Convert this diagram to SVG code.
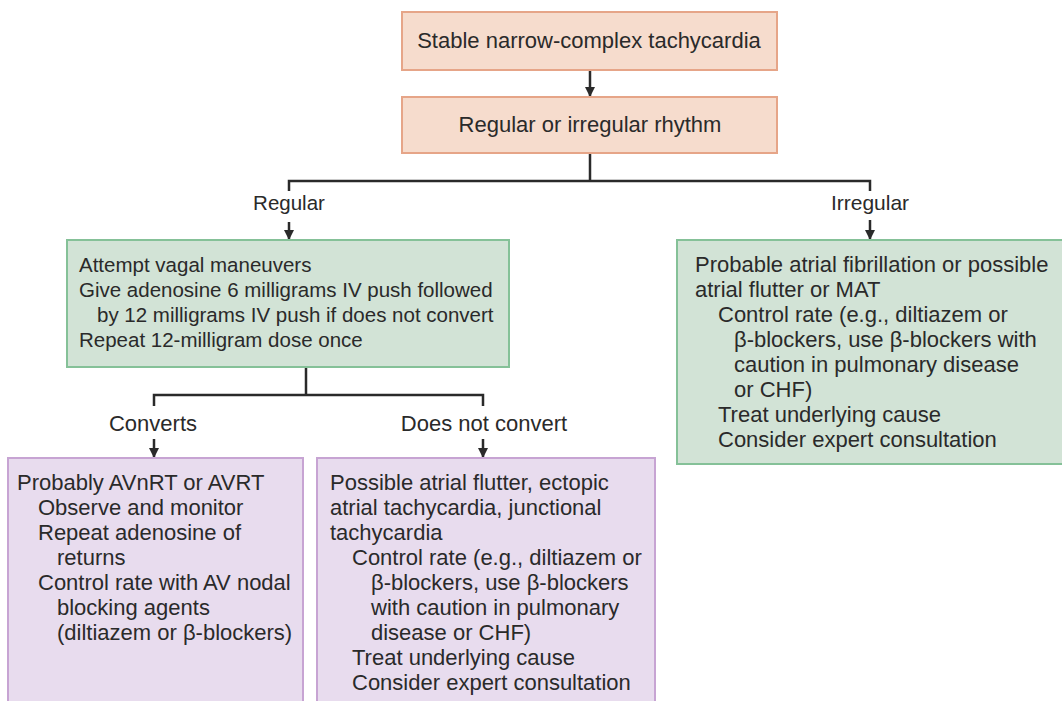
<svg xmlns="http://www.w3.org/2000/svg" width="1062" height="701" viewBox="0 0 1062 701">
<style>
text{font-family:"Liberation Sans",Arial,sans-serif;font-size:22px;fill:#2a2a2a}
.c{text-anchor:middle}
.s{font-size:20.5px}
.m{font-size:21px}
.peach{fill:#f6dccd;stroke:#e6a588;stroke-width:2}
.green{fill:#d2e3d6;stroke:#85c198;stroke-width:2}
.purple{fill:#e8dcee;stroke:#c7a4d3;stroke-width:2}
.ln{fill:none;stroke:#2a2a2a;stroke-width:2.5}
</style>
<defs>
<marker id="ah" viewBox="0 0 10 10" refX="9" refY="5" markerWidth="10" markerHeight="10" markerUnits="userSpaceOnUse" orient="auto">
<path d="M0,0 L10,5 L0,10 z" fill="#2a2a2a"/>
</marker>
</defs>
<rect width="1062" height="701" fill="#ffffff"/>
<g id="connectors">
<line class="ln" x1="590" y1="70" x2="590" y2="96" marker-end="url(#ah)"/>
<polyline class="ln" points="590,153 590,181"/>
<polyline class="ln" points="289,191 289,181 870,181 870,191"/>
<line class="ln" x1="289" y1="222" x2="289" y2="239" marker-end="url(#ah)"/>
<line class="ln" x1="870" y1="220" x2="870" y2="239" marker-end="url(#ah)"/>
<polyline class="ln" points="306,367 306,395"/>
<polyline class="ln" points="154,406 154,395 483,395 483,406"/>
<line class="ln" x1="154" y1="439" x2="154" y2="457" marker-end="url(#ah)"/>
<line class="ln" x1="483" y1="439" x2="483" y2="457" marker-end="url(#ah)"/>
<text class="c s" x="289" y="210">Regular</text>
<text class="c m" x="870" y="210">Irregular</text>
<text class="c" x="153" y="431">Converts</text>
<text class="c" x="484" y="431">Does not convert</text>
</g>
<g id="node-start">
<rect class="peach" x="402" y="12" width="375" height="58"/>
<text class="c" x="589" y="48">Stable narrow-complex tachycardia</text>
</g>
<g id="node-rhythm">
<rect class="peach" x="402" y="97" width="375" height="56"/>
<text class="c" x="590" y="132">Regular or irregular rhythm</text>
</g>
<g id="node-regular">
<rect class="green" x="67" y="240" width="442" height="127"/>
<text class="s" x="79" y="272">Attempt vagal maneuvers</text>
<text class="s" x="79" y="297">Give adenosine 6 milligrams IV push followed</text>
<text class="s" x="97" y="322">by 12 milligrams IV push if does not convert</text>
<text class="s" x="79" y="347">Repeat 12-milligram dose once</text>
</g>
<g id="node-irregular">
<rect class="green" x="677" y="240" width="400" height="224"/>
<text x="695" y="272">Probable atrial fibrillation or possible</text>
<text x="695" y="297">atrial flutter or MAT</text>
<text x="718" y="322">Control rate (e.g., diltiazem or</text>
<text x="734" y="347">β-blockers, use β-blockers with</text>
<text x="734" y="372">caution in pulmonary disease</text>
<text x="734" y="397">or CHF)</text>
<text x="718" y="422">Treat underlying cause</text>
<text x="718" y="447">Consider expert consultation</text>
</g>
<g id="node-converts">
<rect class="purple" x="8" y="458" width="295" height="260"/>
<text x="17" y="490">Probably AVnRT or AVRT</text>
<text x="38" y="515">Observe and monitor</text>
<text x="38" y="540">Repeat adenosine of</text>
<text x="57" y="565">returns</text>
<text x="38" y="590">Control rate with AV nodal</text>
<text x="57" y="615">blocking agents</text>
<text x="57" y="640">(diltiazem or β-blockers)</text>
</g>
<g id="node-notconvert">
<rect class="purple" x="317" y="458" width="338" height="260"/>
<text x="330" y="490">Possible atrial flutter, ectopic</text>
<text x="330" y="515">atrial tachycardia, junctional</text>
<text x="330" y="540">tachycardia</text>
<text x="352" y="565">Control rate (e.g., diltiazem or</text>
<text x="371" y="590">β-blockers, use β-blockers</text>
<text x="371" y="615">with caution in pulmonary</text>
<text x="371" y="640">disease or CHF)</text>
<text x="352" y="665">Treat underlying cause</text>
<text x="352" y="690">Consider expert consultation</text>
</g>
</svg>
